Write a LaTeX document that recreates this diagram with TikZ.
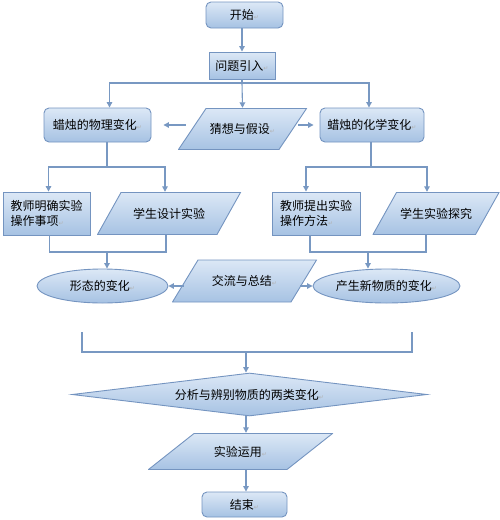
\documentclass[tikz,border=0pt]{standalone}
\usepackage{fontspec}
\newfontfamily\cjk{Noto Sans CJK SC}
\newfontfamily\dvs{DejaVu Sans}
\usetikzlibrary{shapes.geometric,arrows.meta}
\definecolor{edgec}{HTML}{7898C2}
\definecolor{bord}{HTML}{7494C0}
\definecolor{ftop}{HTML}{DCE8F6}
\definecolor{fbot}{HTML}{A6C2E3}
\newcommand\parmark{{\dvs\fontsize{6}{6}\selectfont\textcolor{gray!60}{↵}}}
\begin{document}
\begin{tikzpicture}[x=1pt,y=-1pt,
  font=\cjk\fontsize{12}{15}\selectfont,
  base/.style={draw=bord, line width=0.9pt, top color=ftop, bottom color=fbot, inner sep=0pt, align=center},
  rbox/.style={base, rounded corners=5pt},
  sbox/.style={base},
  para/.style={inner sep=0pt, align=center, path picture={
    \path[draw=bord, line width=0.9pt, top color=ftop, bottom color=fbot]
      ([xshift=0.5pt,yshift=0.5pt]path picture bounding box.south west)
      -- ([xshift=#1,yshift=-0.5pt]path picture bounding box.north west)
      -- ([xshift=-0.5pt,yshift=-0.5pt]path picture bounding box.north east)
      -- ([xshift=-#1,yshift=0.5pt]path picture bounding box.south east) -- cycle;}},
  ell/.style={base, ellipse},
  arr/.style={draw=edgec, line width=1.1pt, -{Triangle[length=5.5pt,width=5.5pt]}},
  ln/.style={draw=edgec, line width=1.1pt}]
\useasboundingbox (0,0) rectangle (500,520);

\node[rbox, minimum width=77pt, minimum height=26pt] (start) at (244.5,15) {开始\parmark};
\node[sbox, minimum width=66pt, minimum height=27pt] (intro) at (242,65.5) {问题引入\parmark};
\node[rbox, minimum width=107pt, minimum height=34pt] (phys) at (97.5,125) {蜡烛的物理变化\parmark};
\node[rbox, minimum width=104pt, minimum height=34pt] (chem) at (372,125) {蜡烛的化学变化\parmark};
\node[para=28pt, minimum width=129pt, minimum height=42pt] (guess) at (242.5,129) {猜想与假设\parmark};

\node[sbox, minimum width=87pt, minimum height=43pt, align=left] (t1) at (46.5,213.5) {教师明确实验\\操作事项\parmark};
\node[para=24pt, minimum width=144pt, minimum height=43pt] (s1) at (169,213.5) {学生设计实验};
\node[sbox, minimum width=88pt, minimum height=43pt, align=left] (t2) at (316,213.5) {教师提出实验\\操作方法\parmark};
\node[para=24pt, minimum width=127pt, minimum height=43pt] (s2) at (436,213.5) {学生实验探究};

\node[ell, minimum width=131pt, minimum height=34pt] (e1) at (102.5,286) {形态的变化\parmark};
\node[para=26pt, minimum width=145pt, minimum height=43pt] (ex) at (244.5,281) {交流与总结\parmark};
\node[ell, minimum width=147pt, minimum height=34pt] (e2) at (386.5,286) {产生新物质的变化\parmark};

\node[base, diamond, aspect=8.25, minimum width=355pt, minimum height=43pt] (dia) at (249.5,394.5) {分析与辨别物质的两类变化\parmark};
\node[para=46pt, minimum width=185pt, minimum height=37pt] (app) at (240.5,451.5) {实验运用\parmark};
\node[rbox, minimum width=85pt, minimum height=25pt] (end) at (244.5,504.5) {结束\parmark};

% top
\draw[arr] (start.south -| intro) -- (intro.north);
\coordinate (j1) at (242,83);
\draw[ln] (intro) -- (j1);
\draw[arr] (j1) -| ([xshift=12pt]phys.north);
\draw[arr] (j1) -| ([xshift=-3pt]chem.north);
\draw[arr] (j1) -- (guess.north);
\draw[arr] ([xshift=8pt]guess.west |- phys.east) -- ([xshift=12pt]phys.east);
\draw[arr] ([xshift=-9pt]guess.east |- chem.west) -- ([xshift=-6pt]chem.west);

% left branch
\coordinate (j2) at (107,167);
\draw[ln] (phys.south -| j2) -- (j2);
\draw[arr] (j2) -| ([xshift=2pt]t1.north);
\draw[arr] (j2) -| ([xshift=-4pt]s1.north);
\coordinate (j3) at (107,252);
\draw[ln] ([xshift=3pt]t1.south) |- (j3);
\draw[ln] ([xshift=-3pt]s1.south) |- (j3);
\draw[arr] (j3) -- (j3 |- e1.north);

% right branch
\coordinate (j4) at (371,167);
\draw[ln] (chem.south -| j4) -- (j4);
\draw[arr] (j4) -| ([xshift=-10pt]t2.north);
\draw[arr] (j4) -| ([xshift=-9pt]s2.north);
\coordinate (j5) at (368,252);
\draw[ln] ([xshift=-6pt]t2.south) |- (j5);
\draw[ln] ([xshift=-10pt]s2.south) |- (j5);
\draw[arr] (j5) -- (j5 |- e2.north);

% exchange
\draw[arr] ([xshift=12pt]ex.west |- e1.east) -- (e1.east);
\draw[arr] ([xshift=-17pt]ex.east |- e2.west) -- (e2.west);

% bracket and bottom
\coordinate (b1) at (82,332);
\coordinate (b2) at (82,352);
\coordinate (b3) at (412,352);
\coordinate (b4) at (412,332);
\coordinate (bm) at (246,352);
\draw[ln] (b1) -- (b2) -- (b3) -- (b4);
\draw[arr] (bm) -- (bm |- dia.north);
\draw[arr] (bm |- dia.south) -- (bm |- app.north);
\draw[arr] (bm |- app.south) -- (bm |- end.north);
\end{tikzpicture}
\end{document}
